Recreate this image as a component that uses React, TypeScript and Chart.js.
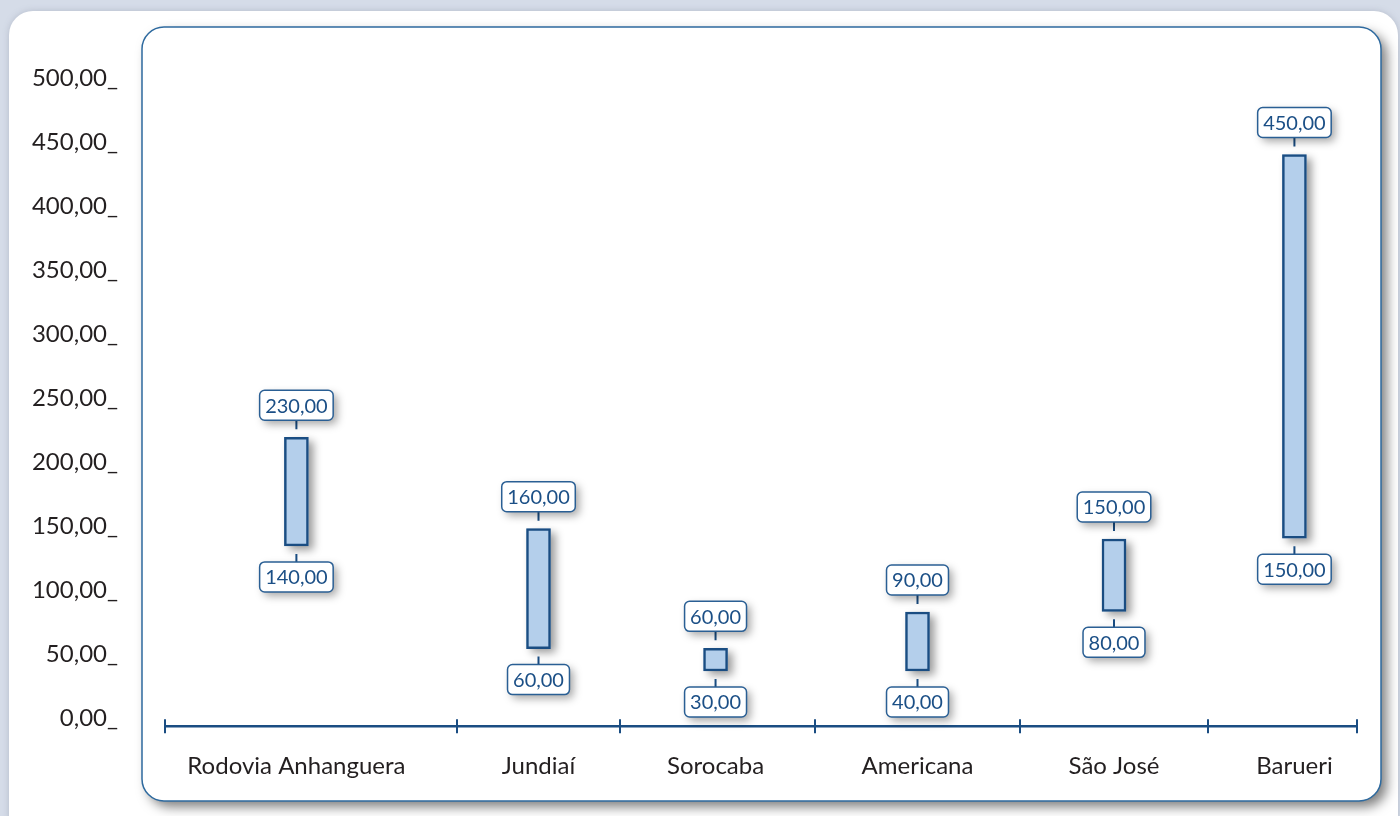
import React, { useEffect, useRef } from "react";
import { Chart, registerables } from "chart.js";

Chart.register(...registerables);

// ---- data ----
const categories = ["Rodovia Anhanguera", "Jundiaí", "Sorocaba", "Americana", "São José", "Barueri"];
const barLow = [141.7, 61.5, 44, 44, 90.6, 147.7];
const barHigh = [226.6, 155.2, 61.7, 90.1, 147.1, 447.5];
const labelHigh = [230, 160, 60, 90, 150, 450];
const labelLow = [140, 60, 30, 40, 80, 150];
const yTickValues = [0, 50, 100, 150, 200, 250, 300, 350, 400, 450, 500];

// ---- layout (category slot widths on the x axis, in axis units) ----
const slotWidths = [292, 163, 195, 205, 188, 149];
const barPosInSlot = [0.45, 0.5, 0.49, 0.5, 0.5, 0.58];

const boundaries: number[] = [0];
slotWidths.forEach((w, i) => boundaries.push(boundaries[i] + w));
const centers = slotWidths.map((w, i) => boundaries[i] + w * barPosInSlot[i]);
const xMax = boundaries[boundaries.length - 1];

const fmt = (v: number) => v.toFixed(2).replace(".", ",");

const FONT = "Lato, 'Open Sans', sans-serif";
const DARK_BLUE = "#1a4d82";

function rr(ctx: CanvasRenderingContext2D, x: number, y: number, w: number, h: number, r: number) {
  ctx.beginPath();
  ctx.moveTo(x + r, y);
  ctx.lineTo(x + w - r, y);
  ctx.arcTo(x + w, y, x + w, y + r, r);
  ctx.lineTo(x + w, y + h - r);
  ctx.arcTo(x + w, y + h, x + w - r, y + h, r);
  ctx.lineTo(x + r, y + h);
  ctx.arcTo(x, y + h, x, y + h - r, r);
  ctx.lineTo(x, y + r);
  ctx.arcTo(x, y, x + r, y, r);
  ctx.closePath();
}

const backgroundPlugin = {
  id: "bgPanel",
  beforeDraw(chart: any) {
    const ctx: CanvasRenderingContext2D = chart.ctx;
    const W = chart.width, H = chart.height;
    ctx.save();
    ctx.fillStyle = "#d5dce8";
    ctx.fillRect(0, 0, W, H);
    // white panel
    ctx.shadowColor = "rgba(120,130,150,0.35)";
    ctx.shadowBlur = 6;
    ctx.fillStyle = "#ffffff";
    rr(ctx, 9, 11, 1389, 830, 24);
    ctx.fill();
    // framed plot box
    ctx.shadowColor = "rgba(0,0,0,0.5)";
    ctx.shadowBlur = 12;
    ctx.shadowOffsetX = 6;
    ctx.shadowOffsetY = 6;
    rr(ctx, 142, 27, 1239, 774, 22);
    ctx.fillStyle = "#ffffff";
    ctx.fill();
    ctx.shadowColor = "transparent";
    ctx.lineWidth = 1.5;
    ctx.strokeStyle = "#2e6a9f";
    ctx.stroke();
    ctx.restore();
  },
};

const axisPlugin = {
  id: "xAxisLine",
  beforeDatasetsDraw(chart: any) {
    const ctx: CanvasRenderingContext2D = chart.ctx;
    const xs = chart.scales.x, ys = chart.scales.y;
    const y0 = ys.getPixelForValue(0) - 1;
    ctx.save();
    ctx.strokeStyle = DARK_BLUE;
    ctx.lineWidth = 2.5;
    ctx.beginPath();
    ctx.moveTo(xs.getPixelForValue(0), y0);
    ctx.lineTo(xs.getPixelForValue(xMax), y0);
    ctx.stroke();
    ctx.lineWidth = 2;
    boundaries.forEach((b) => {
      const px = Math.round(xs.getPixelForValue(b));
      ctx.beginPath();
      ctx.moveTo(px, y0 - 7);
      ctx.lineTo(px, y0 + 7);
      ctx.stroke();
    });
    // bar shadows
    const meta = chart.getDatasetMeta(0);
    ctx.shadowColor = "rgba(0,0,0,0.4)";
    ctx.shadowBlur = 8;
    ctx.shadowOffsetX = 5;
    ctx.shadowOffsetY = 4;
    ctx.fillStyle = "#b4cfeb";
    meta.data.forEach((bar: any) => {
      const p = bar.getProps(["x", "y", "base", "width"], true);
      const top = Math.min(p.y, p.base), bot = Math.max(p.y, p.base);
      ctx.fillRect(p.x - p.width / 2, top, p.width, bot - top);
    });
    ctx.restore();
  },
};

const labelPlugin = {
  id: "rangeLabels",
  afterDatasetsDraw(chart: any) {
    const ctx: CanvasRenderingContext2D = chart.ctx;
    const meta = chart.getDatasetMeta(0);
    ctx.save();
    ctx.font = `20px ${FONT}`;
    const drawBox = (cx: number, boxTop: number, text: string) => {
      const tw = ctx.measureText(text).width;
      const w = tw + 11, h = 30;
      ctx.save();
      ctx.shadowColor = "rgba(0,0,0,0.35)";
      ctx.shadowBlur = 8;
      ctx.shadowOffsetX = 4;
      ctx.shadowOffsetY = 4;
      rr(ctx, cx - w / 2, boxTop, w, h, 5);
      ctx.fillStyle = "#ffffff";
      ctx.fill();
      ctx.restore();
      rr(ctx, cx - w / 2, boxTop, w, h, 5);
      ctx.lineWidth = 1.5;
      ctx.strokeStyle = "#2a5f94";
      ctx.stroke();
      ctx.fillStyle = "#1b4f86";
      ctx.textAlign = "center";
      ctx.textBaseline = "middle";
      ctx.fillText(text, cx, boxTop + h / 2 + 1);
    };
    meta.data.forEach((bar: any, i: number) => {
      const p = bar.getProps(["x", "y", "base"], true);
      const top = Math.min(p.y, p.base), bot = Math.max(p.y, p.base);
      const cx = p.x;
      ctx.strokeStyle = DARK_BLUE;
      ctx.lineWidth = 2;
      ctx.beginPath();
      ctx.moveTo(cx, top - 17);
      ctx.lineTo(cx, top - 8);
      ctx.moveTo(cx, bot + 8);
      ctx.lineTo(cx, bot + 17);
      ctx.stroke();
      drawBox(cx, top - 47, fmt(labelHigh[i]));
      drawBox(cx, bot + 16, fmt(labelLow[i]));
    });
    ctx.restore();
  },
};

export default function App() {
  const ref = useRef<HTMLCanvasElement>(null);
  useEffect(() => {
    if (!ref.current) return;
    const chart = new Chart(ref.current, {
      type: "bar",
      data: {
        datasets: [
          {
            data: categories.map((_, i) => ({ x: centers[i], y: [barLow[i], barHigh[i]] })) as any,
            backgroundColor: "#b4cfeb",
            borderColor: DARK_BLUE,
            borderWidth: 2.5,
            borderSkipped: false,
            barThickness: 24,
            grouped: false,
          } as any,
        ],
      },
      options: {
        animation: false,
        responsive: false,
        devicePixelRatio: 1,
        layout: { padding: { top: 87.3, right: 43, bottom: 0, left: 0 } },
        plugins: { legend: { display: false }, tooltip: { enabled: false } },
        scales: {
          x: {
            type: "linear",
            min: 0,
            max: xMax,
            offset: false,
            grid: { display: false, drawTicks: false },
            border: { display: false },
            afterBuildTicks: (s: any) => {
              s.ticks = centers.map((v) => ({ value: v }));
            },
            afterFit: (s: any) => {
              s.height = 88.7;
            },
            ticks: {
              autoSkip: false,
              maxRotation: 0,
              padding: 25,
              color: "#231f20",
              font: { family: FONT, size: 24 },
              callback: (_v: any, i: number) => categories[i],
            },
          },
          y: {
            type: "linear",
            min: 0,
            max: 500,
            grid: { display: false, drawTicks: false },
            border: { display: false },
            afterBuildTicks: (s: any) => {
              s.ticks = yTickValues.map((v) => ({ value: v }));
            },
            afterFit: (s: any) => {
              s.width = 165;
            },
            ticks: {
              padding: 47,
              labelOffset: -9,
              color: "#231f20",
              font: { family: FONT, size: 24 },
              callback: (v: any) => fmt(Number(v)) + "_",
            },
          },
        },
      } as any,
      plugins: [backgroundPlugin, axisPlugin, labelPlugin],
    });
    return () => chart.destroy();
  }, []);
  return (
    <div style={{ position: "fixed", left: 0, top: 0, width: 1400, height: 816 }}>
      <canvas ref={ref} width={1400} height={816} style={{ display: "block" }} />
    </div>
  );
}
